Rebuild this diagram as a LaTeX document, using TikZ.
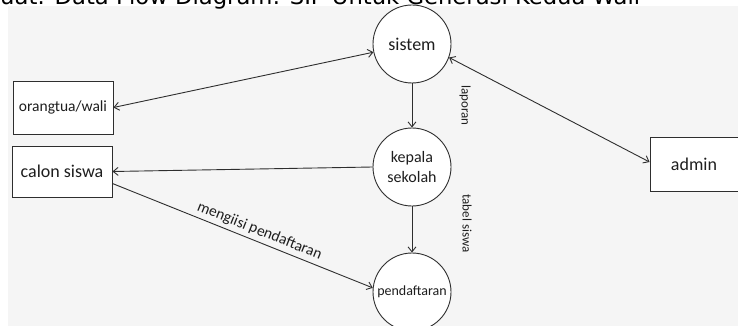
\documentclass[tikz,border=0pt]{standalone}
\usepackage{fontspec}
\setmainfont{Carlito}
\newfontfamily\titlefont{DejaVu Sans}
\usepackage{tikz}
\usetikzlibrary{shapes, arrows.meta, positioning}
\definecolor{bgpaper}{HTML}{F5F5F5}
\definecolor{ink}{HTML}{2E2E2E}
\definecolor{txt}{HTML}{1E1E1E}
\tikzstyle{process} = [circle, minimum size=78pt, inner sep=0pt, text centered, align=center, draw=ink, line width=0.9pt, fill=white, text=txt, font=\fontsize{16}{20}\selectfont]
\tikzstyle{entity} = [rectangle, minimum width=100pt, minimum height=53pt, text centered, draw=ink, line width=0.9pt, fill=white, text=txt]

\begin{document}
\begin{tikzpicture}[x=1pt, y=-1pt, node distance=124pt]
\useasboundingbox (0,0) rectangle (738,326);
\clip (0,0) rectangle (738,326);
\fill[bgpaper] (8,6) rectangle (738,326);
\node (judul) [anchor=base west, inner sep=0pt, text=black, font=\titlefont\fontsize{22.7}{26}\selectfont] at (0,5) {uat: Data Flow Diagram: SIP Untuk Generasi Kedua Wali};

% proses
\node (sistem) [process, font=\fontsize{18}{20}\selectfont] at (412,44) {sistem};
\node (kepala) [process, below of=sistem, yshift=1pt] {kepala\\sekolah};
\node (daftar) [process, below of=kepala, yshift=-1pt, font=\fontsize{14}{16}\selectfont] {pendaftaran};

% entitas
\node (ortu) [entity, font=\fontsize{15.5}{18}\selectfont] at (63,107.5) {orangtua/wali};
\node (calon) [entity, minimum height=51pt, font=\fontsize{18}{20}\selectfont] at (62,171.5) {calon siswa};
\node (admin) [entity, minimum width=88pt, minimum height=54pt, font=\fontsize{18}{20}\selectfont] at (694,164) {admin};

\draw [ink, line width=0.9pt, {Straight Barb[length=5pt, width=8pt]}-{Straight Barb[length=5pt, width=8pt]}] (ortu.east) -- (sistem);
\draw [ink, line width=0.9pt, {Straight Barb[length=5pt, width=8pt]}-{Straight Barb[length=5pt, width=8pt]}] (sistem.-20) -- ([yshift=2pt]admin.west);
\draw [ink, line width=0.9pt, -{Straight Barb[length=5pt, width=8pt]}] (sistem) -- (kepala) node[midway, xshift=53pt, rotate=-90, text=txt, font=\fontsize{13}{14}\selectfont] {laporan};
\draw [ink, line width=0.9pt, -{Straight Barb[length=5pt, width=8pt]}] (kepala.west) -- (calon.east);
\draw [ink, line width=0.9pt, -{Straight Barb[length=5pt, width=8pt]}] (kepala) -- (daftar) node[midway, xshift=55pt, yshift=6pt, rotate=-90, text=txt, font=\fontsize{13}{14}\selectfont] {tabel siswa};
\draw [ink, line width=0.9pt, -{Straight Barb[length=5pt, width=8pt]}] ([yshift=-12pt]calon.east) -- (daftar.174) node[sloped, above, pos=0.55, text=txt, font=\fontsize{15.5}{18}\selectfont] {mengiisi pendaftaran};
\end{tikzpicture}
\end{document}
